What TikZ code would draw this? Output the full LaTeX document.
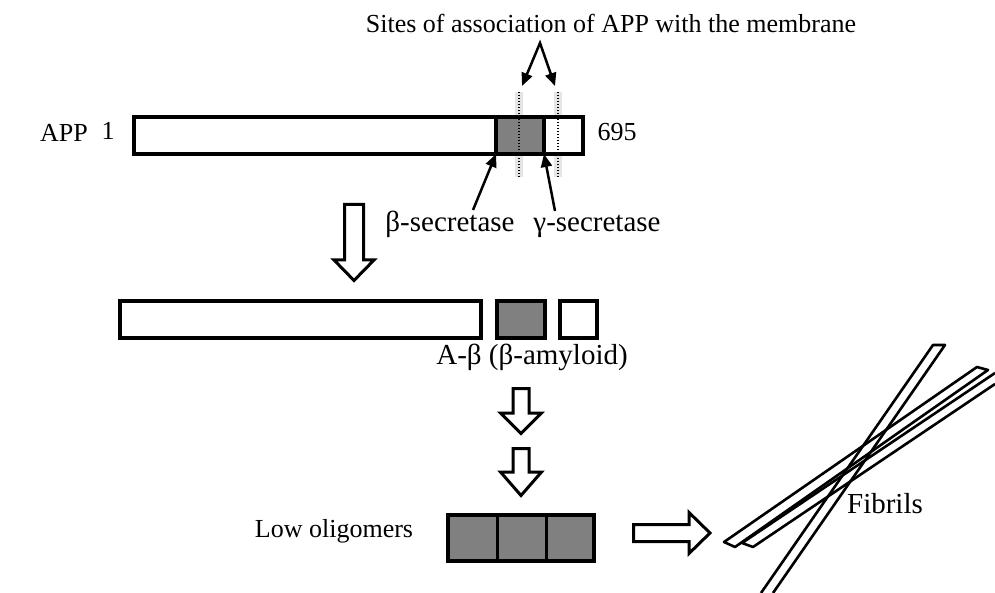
\documentclass[tikz,border=0pt]{standalone}
\usepackage{fontspec}
\setmainfont{Liberation Serif}
\usetikzlibrary{arrows.meta}
\definecolor{boxgray}{HTML}{808080}
\begin{document}
\begin{tikzpicture}[x=1pt,y=-1pt,
  box/.style={draw, line width=4pt, inner sep=0pt, outer sep=0pt, fill=white},
  graybox/.style={box, fill=boxgray},
  cell/.style={draw, line width=3pt, inner sep=0pt, outer sep=0pt, fill=boxgray},
  lbl/.style={font=\fontsize{26}{30}\selectfont, inner sep=0pt, anchor=base},
  biglbl/.style={font=\fontsize{29}{33}\selectfont, inner sep=0pt, anchor=base},
  conn/.style={line width=2.5pt, -{Triangle[length=13pt,width=11pt]}},
  conntwo/.style={line width=2.5pt, {Triangle[length=13pt,width=11pt]}-{Triangle[length=13pt,width=11pt]}},
  hollow/.style={draw, line width=3pt, fill=white, line join=miter},
  memdots/.style={line width=2.2pt, dash pattern=on 1.4pt off 1.6pt},
  memblur/.style={line width=8pt, black!10},
  fibril/.style={line width=2.6pt, line join=round}]
\fill[white] (0,0) rectangle (995,593);
\useasboundingbox (0,0) rectangle (995,593);

% labels
\node[lbl] (sites) at (611,33) {Sites of association of APP with the membrane};
\node[lbl] (applbl) at (64,142) {APP};
\node[lbl] (one) at (108,140) {1};
\node[lbl] (end) at (617,141) {695};
\node[biglbl] (bsec) at (450,232) {β-secretase};
\node[biglbl] (gsec) at (597,232) {γ-secretase};
\node[biglbl] (abl) at (532,364) {A-β (β-amyloid)};
\node[lbl] (low) at (334,537) {Low oligomers};
\node[biglbl] (fib) at (885,513) {Fibrils};

% membrane blur
\coordinate (m1a) at (519,92);
\coordinate (m1b) at (519,177);
\coordinate (m2a) at (558,92);
\coordinate (m2b) at (558,177);
\draw[memblur] (m1a) -- (m1b);
\draw[memblur] (m2a) -- (m2b);

% row 1
\node[box, minimum width=449pt, minimum height=37pt] (app) at (358.5,135.5) {};
\node[graybox, minimum width=48pt, minimum height=37pt] (ab1) at (520,135.5) {};

% membrane dotted lines
\draw[memdots] (m1a) -- (m1b);
\draw[memdots] (m2a) -- (m2b);

% arrows from sites label
\coordinate (apex) at (540,43);
\coordinate (t1) at (522,86);
\coordinate (t2) at (555,86);
\draw[conntwo, line join=miter] (t1) -- (apex) -- (t2);

% secretase arrows
\coordinate (bs) at (473,210);
\coordinate (gs) at (555,211);
\draw[conn] (bs) -- (ab1.south west);
\draw[conn] (gs) -- (ab1.south east);

% big hollow arrow
\draw[hollow] (344.5,204.5) -- (363.5,204.5) -- (363.5,260) -- (374,260) -- (354,280.5) -- (334,260) -- (344.5,260) -- cycle;

% row 2
\node[box, minimum width=361pt, minimum height=37pt] (nterm) at (300.5,319.5) {};
\node[graybox, minimum width=48pt, minimum height=37pt] (ab2) at (521,319.5) {};
\node[box, minimum width=37pt, minimum height=37pt] (cterm) at (578.5,319.5) {};

% small hollow arrows
\draw[hollow] (513,388.5) -- (529,388.5) -- (529,413) -- (541.5,413) -- (521,433.5) -- (500.5,413) -- (513,413) -- cycle;
\draw[hollow] (513,448.5) -- (529,448.5) -- (529,472) -- (541.5,472) -- (521,495.5) -- (500.5,472) -- (513,472) -- cycle;

% oligomers
\node[cell, minimum width=49pt, minimum height=46pt] (c1) at (472.5,538) {};
\node[cell, minimum width=49pt, minimum height=46pt] (c2) at (521.5,538) {};
\node[cell, minimum width=48pt, minimum height=46pt] (c3) at (570,538) {};
\node[draw, line width=4.5pt, inner sep=0pt, minimum width=146pt, minimum height=46pt] (olig) at (521,538) {};

% right hollow arrow
\draw[hollow] (633.5,524.5) -- (689,524.5) -- (689,512.5) -- (710,533) -- (689,553.5) -- (689,541.5) -- (633.5,541.5) -- cycle;

% fibrils
\draw[fibril] (761,593) -- (933,345) -- (945,345) -- (773,593);
\draw[fibril] (977,367) -- (988,370) -- (735,547) -- (724,542) -- cycle;
\draw[fibril] (995,373) -- (742,543) -- (753,547) -- (995,384);
\end{tikzpicture}
\end{document}
